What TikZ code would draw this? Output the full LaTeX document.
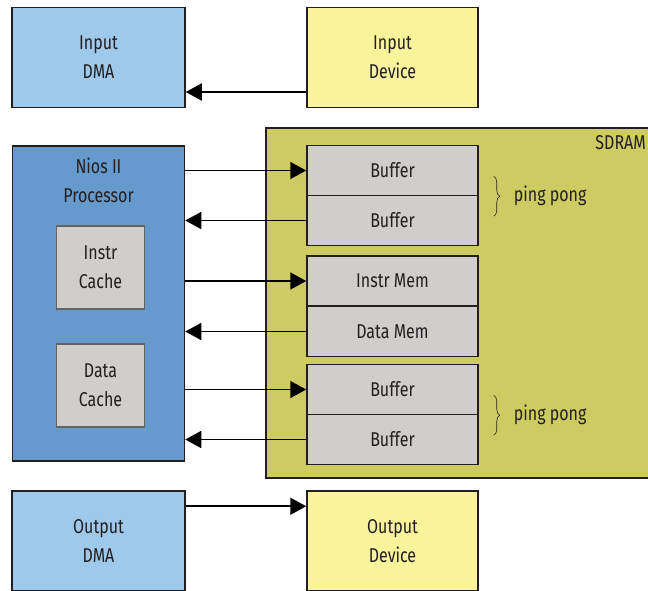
\documentclass[tikz,border=0pt]{standalone}
\usepackage{fontspec}
\setmainfont{Fira Sans}[FakeStretch=0.8]
\usetikzlibrary{arrows.meta,decorations.pathreplacing}
\definecolor{dmablue}{HTML}{9EC9EA}
\definecolor{devyellow}{HTML}{F9F39C}
\definecolor{sdramgreen}{HTML}{CDCC63}
\definecolor{niosblue}{HTML}{6699CC}
\definecolor{boxgray}{HTML}{CFCECC}
\definecolor{edge}{HTML}{231F20}
\tikzset{
  blk/.style={draw=edge, line width=1.5pt, rectangle, inner sep=0pt, align=center,
    font=\fontsize{20}{29}\selectfont, text=edge},
  memcell/.style={blk, fill=boxgray, minimum width=171pt, minimum height=50pt},
  arr/.style={draw=black, line width=1.6pt, -{Triangle[length=16pt,width=17pt]}},
  brc/.style={draw=edge, line width=0.6pt, decorate, decoration={brace, amplitude=6pt}},
  lbl/.style={font=\fontsize{20}{22}\selectfont, text=edge, inner sep=0pt}
}
\begin{document}
\begin{tikzpicture}[x=1pt,y=-1pt]
\useasboundingbox (0,0) rectangle (648,590);
\begin{scope}
\clip (0,0) rectangle (648,590);
% top row
\node[blk, fill=dmablue, minimum width=173pt, minimum height=100pt] (indma) at (98.5,57.5) {Input\\DMA};
\node[blk, fill=devyellow, minimum width=171pt, minimum height=100pt] (indev) at (392.5,57.5) {Input\\Device};
% SDRAM
\node[blk, fill=sdramgreen, minimum width=400pt, minimum height=350pt] (sdram) at (466,303) {};
\node[lbl, anchor=north east] (sdramlbl) at (646,135) {SDRAM};
% Nios
\node[blk, fill=niosblue, minimum width=172pt, minimum height=315pt] (nios) at (98.5,303.5) {};
\node[lbl, align=center, font=\fontsize{20}{29}\selectfont] (niostxt) at (98.5,180.5) {Nios II\\Processor};
\node[blk, fill=boxgray, draw=edge!70, line width=1.2pt, minimum width=88pt, minimum height=83pt] (icache) at (100.5,267.5) {Instr\\Cache};
\node[blk, fill=boxgray, draw=edge!70, line width=1.2pt, minimum width=88pt, minimum height=83pt] (dcache) at (100.5,385.5) {Data\\Cache};
% memory cells
\node[memcell] (buf1) at (392.5,170.5) {Buffer};
\node[memcell] (buf2) at (392.5,220.5) {Buffer};
\node[memcell] (imem) at (392.5,281) {Instr Mem};
\node[memcell] (dmem) at (392.5,331.5) {Data Mem};
\node[memcell] (buf3) at (392.5,389.5) {Buffer};
\node[memcell] (buf4) at (392.5,439.5) {Buffer};
% braces
\draw[brc] ([xshift=15pt,yshift=20pt]buf1.south east) -- ([xshift=15pt,yshift=-20pt]buf1.south east) coordinate[midway,xshift=8pt] (b1);
\node[lbl, anchor=west] (pp1) at ([xshift=12pt]b1) {ping pong};
\draw[brc] ([xshift=15pt,yshift=20pt]buf3.south east) -- ([xshift=15pt,yshift=-20pt]buf3.south east) coordinate[midway,xshift=8pt] (b3);
\node[lbl, anchor=west] (pp3) at ([xshift=12pt]b3) {ping pong};
% bottom row
\node[blk, fill=dmablue, minimum width=173pt, minimum height=100pt] (outdma) at (98.5,541) {Output\\DMA};
\node[blk, fill=devyellow, minimum width=171pt, minimum height=100pt] (outdev) at (392.5,541) {Output\\Device};
% arrows
\draw[arr] ([yshift=-34.5pt]indev.west) -- ([yshift=-34.5pt]indma.east);
\draw[arr] (nios.east |- buf1.west) -- (buf1.west);
\draw[arr] (buf2.west) -- (nios.east |- buf2.west);
\draw[arr] (nios.east |- imem.west) -- (imem.west);
\draw[arr] (dmem.west) -- (nios.east |- dmem.west);
\draw[arr] (nios.east |- buf3.west) -- (buf3.west);
\draw[arr] (buf4.west) -- (nios.east |- buf4.west);
\draw[arr] ([yshift=-16pt]outdma.north east) -- ([yshift=-16pt]outdma.north east -| outdev.west);
\end{scope}
\end{tikzpicture}
\end{document}
